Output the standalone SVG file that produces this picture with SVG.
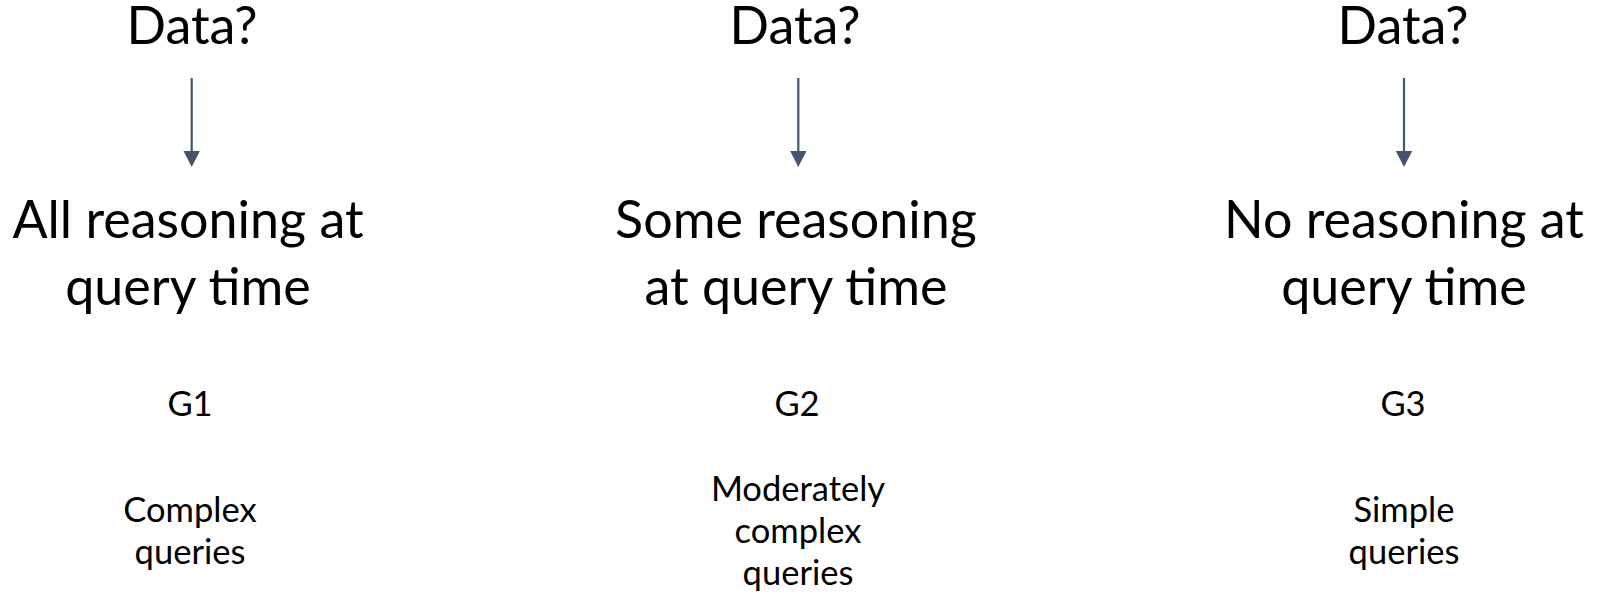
<svg xmlns="http://www.w3.org/2000/svg" width="1598" height="594" viewBox="0 0 1598 594">
  <defs>
    <style>
      .big { font-family: Lato, "Open Sans", sans-serif; font-size: 52px; fill: #000; text-anchor: middle; }
      .small { font-family: Lato, "Open Sans", sans-serif; font-size: 34.5px; fill: #000; text-anchor: middle; }
      .conn { stroke: #44546A; stroke-width: 2.2; fill: none; }
      .head { fill: #44546A; }
    </style>
  </defs>
  <rect width="1598" height="594" fill="#fff"/>

  <!-- column 1 -->
  <g id="data1"><text class="big" x="192" y="44">Data?</text></g>
  <g id="reason1">
    <text class="big" x="188" y="238">All reasoning at</text>
    <text class="big" x="188" y="305">query time</text>
  </g>
  <g id="g1"><text class="small" x="190" y="416">G1</text></g>
  <g id="queries1">
    <text class="small" x="190" y="522">Complex</text>
    <text class="small" x="190" y="564">queries</text>
  </g>

  <!-- column 2 -->
  <g id="data2"><text class="big" x="795" y="44">Data?</text></g>
  <g id="reason2">
    <text class="big" x="796" y="238">Some reasoning</text>
    <text class="big" x="796" y="305">at query time</text>
  </g>
  <g id="g2"><text class="small" x="797" y="416">G2</text></g>
  <g id="queries2">
    <text class="small" x="798" y="501">Moderately</text>
    <text class="small" x="798" y="543">complex</text>
    <text class="small" x="798" y="585">queries</text>
  </g>

  <!-- column 3 -->
  <g id="data3"><text class="big" x="1403" y="44">Data?</text></g>
  <g id="reason3">
    <text class="big" x="1404" y="238">No reasoning at</text>
    <text class="big" x="1404" y="305">query time</text>
  </g>
  <g id="g3"><text class="small" x="1403" y="416">G3</text></g>
  <g id="queries3">
    <text class="small" x="1404" y="522">Simple</text>
    <text class="small" x="1404" y="564">queries</text>
  </g>

  <!-- arrows -->
  <g id="connectors">
    <line class="conn" x1="191.7" y1="78" x2="191.7" y2="152"/>
    <polygon class="head" points="183.5,151 199.9,151 191.7,167"/>
    <line class="conn" x1="798.3" y1="78" x2="798.3" y2="152"/>
    <polygon class="head" points="790.1,151 806.5,151 798.3,167"/>
    <line class="conn" x1="1404" y1="78" x2="1404" y2="152"/>
    <polygon class="head" points="1395.8,151 1412.2,151 1404,167"/>
  </g>
</svg>
